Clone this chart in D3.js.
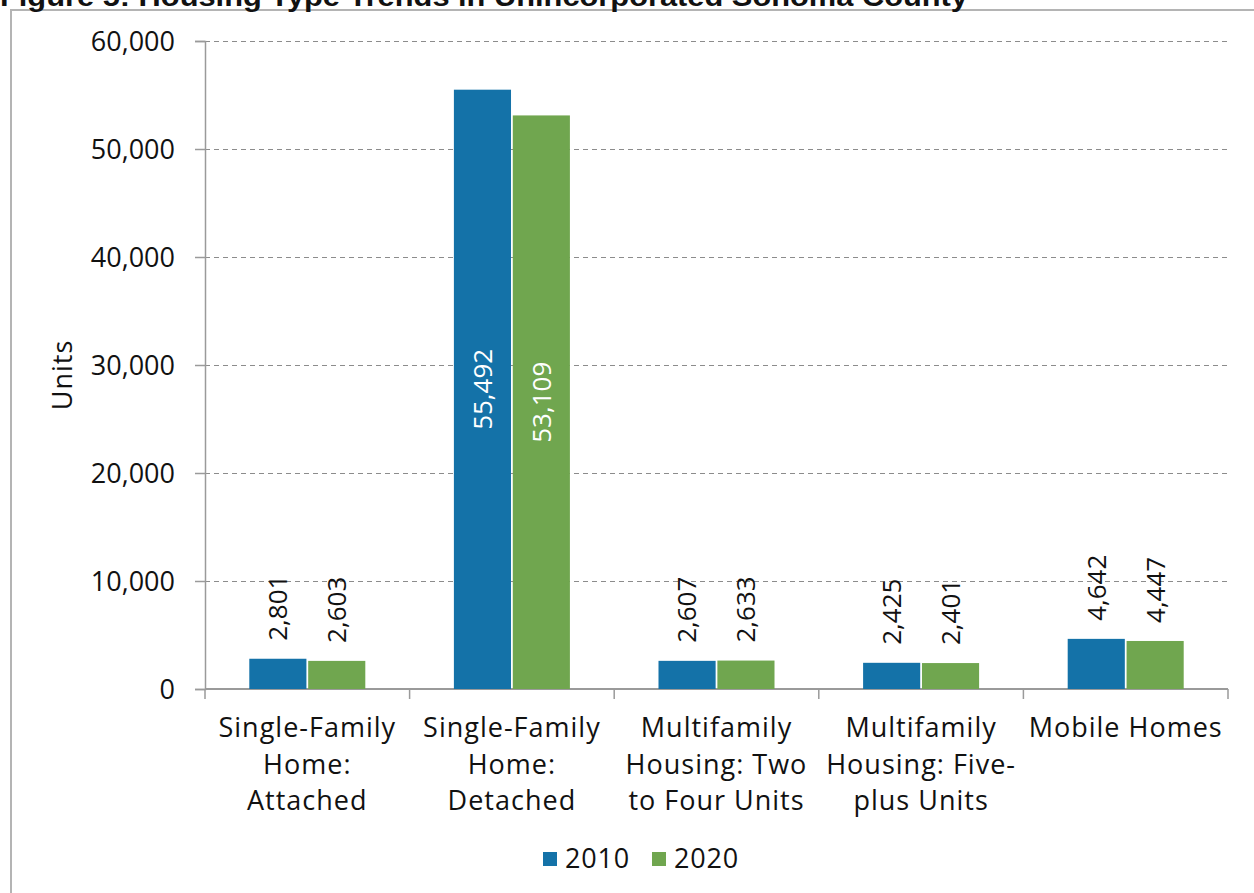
<!DOCTYPE html>
<html>
<head>
<meta charset="utf-8">
<script src="https://cdn.jsdelivr.net/npm/d3@7"></script>
<style>
    body { margin: 0; background: #fff; }
    text { font-family: "Open Sans", "Liberation Sans", sans-serif; fill: #111; }
    .grid line { stroke: #8c8c8c; stroke-dasharray: 5,4; }
    .grid path { display: none; }
</style>
</head>
<body>
<div id="view"></div>
<script>
const title = "Figure 5: Housing Type Trends in Unincorporated Sonoma County";
const categories = [
    ["Single-Family", "Home:", "Attached"],
    ["Single-Family", "Home:", "Detached"],
    ["Multifamily", "Housing: Two", "to Four Units"],
    ["Multifamily", "Housing: Five-", "plus Units"],
    ["Mobile Homes"]
];
const seriesNames = ["2010", "2020"];
const values2010 = [2801, 55492, 2607, 2425, 4642];
const values2020 = [2603, 53109, 2633, 2401, 4447];
const yTicks = [0, 10000, 20000, 30000, 40000, 50000, 60000];
const colors = ["#1472a8", "#70a64f"];

const W = 1254, H = 893;
const plot = {left: 205, right: 1228, top: 41, bottom: 689};

const svg = d3.select("#view")
    .append("svg")
        .attr("width", W)
        .attr("height", H);

// outer frame (only top and left edges are visible in the crop)
svg.append("path")
    .attr("d", `M11,${H} V10 H${W}`)
    .attr("fill", "none")
    .attr("stroke", "#b4b4b4")
    .attr("stroke-width", 2);

// title, cut off at the top like the source
svg.append("text")
    .attr("x", 0)
    .attr("y", 6)
    .style("font-family", "Liberation Sans, Arial, sans-serif")
    .attr("font-weight", "bold")
    .attr("font-size", 27)
    .attr("textLength", 968)
    .attr("lengthAdjust", "spacingAndGlyphs")
    .text(title);

// scales
const x0 = d3.scaleBand()
    .domain(d3.range(categories.length))
    .range([plot.left, plot.right])
    .paddingInner(0.433)
    .paddingOuter(0.433 / 2);
const x1 = d3.scaleBand()
    .domain(seriesNames)
    .range([0, x0.bandwidth()])
    .paddingInner(0.03);
const y = d3.scaleLinear()
    .domain([0, 60000])
    .range([plot.bottom, plot.top]);

// grid
svg.append("g")
    .attr("class", "grid")
    .attr("transform", `translate(${plot.left},0)`)
    .call(d3.axisLeft(y).tickValues(yTicks.filter(d => d > 0)).tickSize(-(plot.right - plot.left)).tickFormat(''));

// y axis
const yAxis = svg.append("g")
    .attr("transform", `translate(${plot.left},0)`)
    .call(d3.axisLeft(y).tickValues(yTicks).tickSize(10).tickPadding(20).tickFormat(d3.format(",")));
yAxis.select(".domain").attr("stroke", "#9a9a9a").attr("stroke-width", 1.5);
yAxis.selectAll(".tick line").attr("stroke", "#9a9a9a").attr("stroke-width", 1.5);
yAxis.selectAll(".tick text")
    .attr("font-size", 27)
    .attr("dy", "0.36em")
    .style("font-family", "Open Sans")
    .style("fill", "#111");

svg.append("text")
    .attr("transform", `translate(72,${(plot.top + plot.bottom) / 2 + 10}) rotate(-90)`)
    .attr("text-anchor", "middle")
    .attr("font-size", 27)
    .attr("letter-spacing", 1)
    .text("Units");

// x axis line and boundary ticks
const bounds = d3.range(categories.length + 1).map(i => plot.left + i * x0.step());
svg.append("line")
    .attr("x1", plot.left).attr("x2", plot.right)
    .attr("y1", y(0)).attr("y2", y(0))
    .attr("stroke", "#9a9a9a").attr("stroke-width", 2);
svg.selectAll(".xtick")
    .data(bounds)
    .join("line")
        .attr("x1", d => d).attr("x2", d => d)
        .attr("y1", y(0)).attr("y2", y(0) + 10)
        .attr("stroke", "#9a9a9a").attr("stroke-width", 1.5);

// category labels
const catLabel = svg.selectAll(".cat")
    .data(categories)
    .join("text")
        .attr("text-anchor", "middle")
        .attr("font-size", 27)
        .attr("letter-spacing", 1);
catLabel.selectAll("tspan")
    .data((d, i) => d.map(t => ({t: t, i: i})))
    .join("tspan")
        .attr("x", d => x0(d.i) + x0.bandwidth() / 2)
        .attr("y", (d, j) => 737 + j * 36.5)
        .text(d => d.t);

// bars
const rows = categories.map((c, i) => ({i: i, vals: [values2010[i], values2020[i]]}));
const groups = svg.selectAll(".grp")
    .data(rows)
    .join("g")
        .attr("transform", d => `translate(${x0(d.i)},0)`);

groups.selectAll("rect")
    .data(d => d.vals.map((v, k) => ({v: v, k: k})))
    .join("rect")
        .attr("x", d => x1(seriesNames[d.k]))
        .attr("y", d => y(d.v))
        .attr("width", x1.bandwidth())
        .attr("height", d => y(0) - y(d.v))
        .attr("fill", d => colors[d.k]);

// data labels: inside (white) for the tall bars, above the others
const fmt = d3.format(",");
groups.selectAll(".lbl")
    .data(d => d.vals.map((v, k) => ({v: v, k: k})))
    .join("text")
        .attr("font-size", 26)
        .attr("dy", "0.36em")
        .attr("text-anchor", d => d.v > 20000 ? "middle" : "start")
        .style("fill", d => d.v > 20000 ? "#fff" : "#111")
        .attr("transform", d => {
            const cx = x1(seriesNames[d.k]) + x1.bandwidth() / 2;
            const cy = d.v > 20000 ? (y(d.v) + y(0)) / 2 : y(d.v) - 18;
            return `translate(${cx},${cy}) rotate(-90)`;
        })
        .text(d => fmt(d.v));

// legend
const legend = svg.append("g");
const legendX = [543, 652];
seriesNames.forEach((s, k) => {
    legend.append("rect")
        .attr("x", legendX[k]).attr("y", 852)
        .attr("width", 14).attr("height", 14)
        .attr("fill", colors[k]);
    legend.append("text")
        .attr("x", legendX[k] + 22).attr("y", 868)
        .attr("font-size", 27)
        .attr("letter-spacing", 0.8)
        .text(s);
});
</script>
</body>
</html>
